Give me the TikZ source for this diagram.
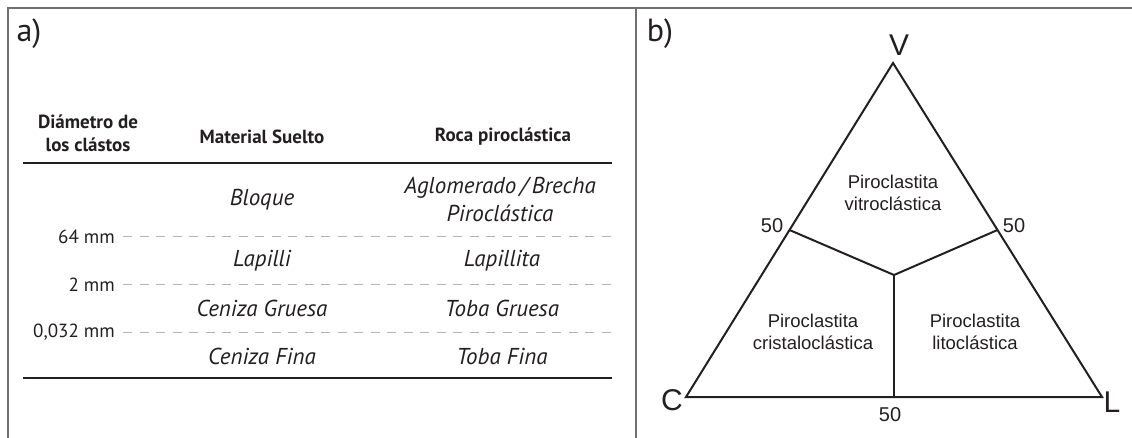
\documentclass[tikz,border=0pt]{standalone}
\usepackage{fontspec}
\setmainfont{PT Sans}
\newfontfamily\arialfont{Liberation Sans}
\usetikzlibrary{calc,positioning}
\definecolor{framegray}{HTML}{707070}
\definecolor{dashgray}{HTML}{B4B4B4}
\definecolor{ink}{HTML}{231F20}

\begin{document}
\begin{tikzpicture}[x=1pt,y=-1pt, every node/.style={inner sep=0pt,text=ink},
  panel/.style={font=\fontsize{32}{34}\selectfont},
  colhead/.style={font=\bfseries\fontsize{19}{23}\selectfont,align=center},
  entry/.style={font=\itshape\fontsize{23}{28}\selectfont,align=center},
  sizelabel/.style={font=\fontsize{19}{20}\selectfont,anchor=east},
  rule/.style={draw=ink,line width=2.5pt},
  limit/.style={draw=dashgray,line width=1pt,dash pattern=on 9pt off 7.5pt},
  frame/.style={draw=framegray,line width=1.5pt},
  side/.style={draw=ink,line width=2pt},
  vertex/.style={font=\arialfont\fontsize{30}{32}\selectfont},
  tick/.style={font=\arialfont\fontsize{20}{22}\selectfont},
  field/.style={font=\arialfont\fontsize{18.5}{22}\selectfont,align=center}]
  \useasboundingbox (0,0) rectangle (1132,438);

  % frame
  \coordinate (tl) at (8,8);
  \coordinate (tr) at (1132,8);
  \coordinate (bl) at (8,438);
  \coordinate (dt) at (636,8);
  \coordinate (db) at (636,438);
  \draw[frame] (bl) -- (tl) -- (tr);
  \draw[frame] (dt) -- (db);
  \node[panel] (pa) at (29,34) {a)};
  \node[panel] (pb) at (660,34) {b)};

  % a) table
  \node[colhead] (hdiam) at (88,133) {Diámetro de\\los clástos};
  \node[colhead] (hmat) at (262,137) {Material Suelto};
  \node[colhead] (hroca) at (503,137) {Roca piroclástica};
  \coordinate (topl) at (23,163);
  \coordinate (topr) at (612,163);
  \coordinate (botl) at (23,378);
  \coordinate (botr) at (612,378);
  \draw[rule] (topl) -- (topr);
  \draw[rule] (botl) -- (botr);

  \node[entry] (bloque) at (262,200) {Bloque};
  \node[entry] (aglom) at (500,199) {Aglomerado\,/\,Brecha\\Piroclástica};
  \node[entry] (lapilli) at (262,261) {Lapilli};
  \node[entry] (lapillita) at (502,261) {Lapillita};
  \node[entry] (cgruesa) at (262,308) {Ceniza Gruesa};
  \node[entry] (tgruesa) at (502,308) {Toba Gruesa};
  \node[entry] (cfina) at (262,356) {Ceniza Fina};
  \node[entry] (tfina) at (502,356) {Toba Fina};

  \node[sizelabel] (s64) at (115,237) {64 mm};
  \node[sizelabel] (s2) at (115,285) {2 mm};
  \node[sizelabel] (s032) at (115,332) {0,032 mm};
  \coordinate (e64) at (612,237);
  \coordinate (e2) at (612,285);
  \coordinate (e032) at (612,332);
  \draw[limit] ([xshift=8pt]s64.east) -- (e64);
  \draw[limit] ([xshift=8pt]s2.east) -- (e2);
  \draw[limit] ([xshift=8pt]s032.east) -- (e032);

  % b) ternary diagram
  \coordinate (V) at (893,63);
  \coordinate (C) at (686,397);
  \coordinate (L) at (1102,397);
  \coordinate (mCV) at ($(C)!0.5!(V)$);
  \coordinate (mVL) at ($(V)!0.5!(L)$);
  \coordinate (mCL) at ($(C)!0.5!(L)$);
  \coordinate (Y) at (894,275);
  \draw[side] (C) -- (V) -- (L) -- cycle;
  \draw[side] (mCV) -- (Y) -- (mVL);
  \draw[side] (Y) -- (mCL);

  \node[vertex] (lv) at (899,45) {V};
  \node[vertex] (lc) at (672,400) {C};
  \node[vertex] (ll) at (1112,402) {L};
  \node[tick] (t1) at (772,226) {50};
  \node[tick] (t2) at (1014,226) {50};
  \node[tick] (t3) at (890,415) {50};
  \node[field] (fvit) at (893,193) {Piroclastita\\vitroclástica};
  \node[field] (fcris) at (813,332) {Piroclastita\\cristaloclástica};
  \node[field] (flito) at (975,332) {Piroclastita\\litoclástica};
\end{tikzpicture}
\end{document}
